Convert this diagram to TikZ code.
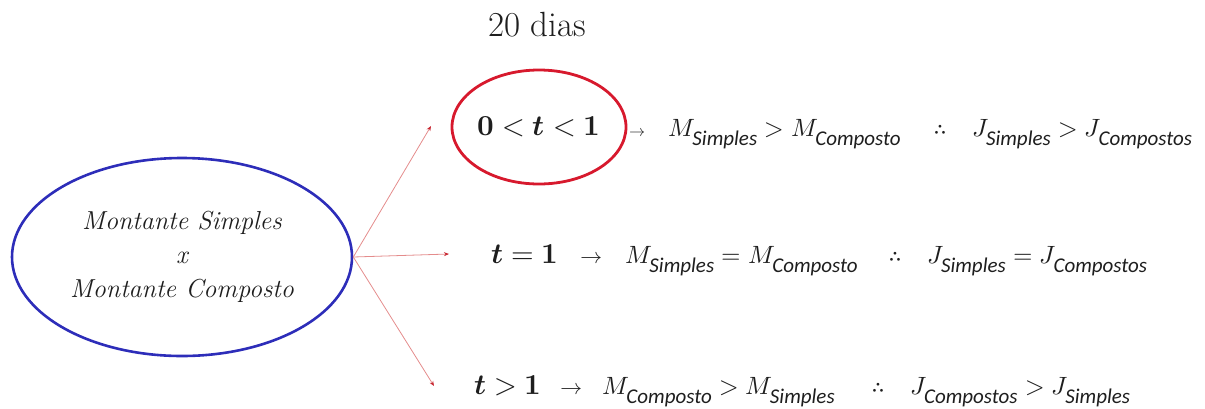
\documentclass[tikz,border=0pt]{standalone}
\usepackage{fontspec}
\usepackage{unicode-math}
\setmathfont{Latin Modern Math}
\newfontfamily\subf{Carlito}
\usetikzlibrary{shapes.geometric,arrows.meta}
\definecolor{ellblue}{RGB}{45,45,185}
\definecolor{ellred}{RGB}{215,25,45}
\definecolor{linkred}{RGB}{228,140,140}
\definecolor{tipred}{RGB}{200,40,50}
\definecolor{ink}{RGB}{30,30,30}
\newcommand{\sbx}[1]{_{\raisebox{-3pt}{\subf\itshape\fontsize{21}{24}\selectfont #1}}}
\newcommand{\thf}{\text{\fontsize{27}{30}\selectfont$\therefore$}}
\begin{document}
\begin{tikzpicture}[x=1pt,y=-1pt,
  conn/.style={draw=linkred, line width=0.8pt, -{Stealth[length=5pt,width=4pt,color=tipred]}},
  rowtxt/.style={anchor=base west, inner sep=0pt, text=ink, font=\fontsize{25}{28}\selectfont},
  condtxt/.style={anchor=base west, inner sep=0pt, text=ink, font=\fontsize{29}{32}\selectfont},
  arr/.style={anchor=base west, inner sep=0pt, text=ink, font=\fontsize{22}{26}\selectfont}]
\useasboundingbox (0,0) rectangle (1205,408);

% main ellipse
\node[ellipse, draw=ellblue, line width=2.6pt, minimum width=340pt, minimum height=198pt,
      inner sep=0pt, align=center, text=ink, font=\fontsize{26}{34}\selectfont\itshape]
      (main) at (182,257) {Montante Simples\\x\\Montante Composto};

% title
\node[inner sep=0pt, anchor=base, text=ink, font=\fontsize{35}{38}\selectfont] (days) at (537,36) {20 dias};

% highlighted condition
\node[ellipse, draw=ellred, line width=2.8pt, minimum width=174pt, minimum height=114pt,
      inner sep=0pt, text=ink, font=\fontsize{29}{32}\selectfont] (ring) at (539,127)
      {$\symbf{0}<\symbfit{t}<\symbf{1}$};

% row 1
\node[arr, font=\fontsize{16}{18}\selectfont] (a1) at (629,136) {$\rightarrow$};
\node[rowtxt] (m1) at (668,136) {$M\sbx{Simples} > M\sbx{Composto}$};
\node[rowtxt] (th1) at (933,136) {\thf};
\node[rowtxt] (j1) at (972,136) {$J\sbx{Simples} > J\sbx{Compostos}$};

% row 2
\node[condtxt] (c2) at (491,263) {$\symbfit{t}=\symbf{1}$};
\node[arr] (a2) at (580,263) {$\rightarrow$};
\node[rowtxt] (m2) at (625,263) {$M\sbx{Simples} = M\sbx{Composto}$};
\node[rowtxt] (th2) at (888,263) {\thf};
\node[rowtxt] (j2) at (927,263) {$J\sbx{Simples} = J\sbx{Compostos}$};

% row 3
\node[condtxt] (c3) at (474,394) {$\symbfit{t}>\symbf{1}$};
\node[arr] (a3) at (560,394) {$\rightarrow$};
\node[rowtxt] (m3) at (602,394) {$M\sbx{Composto} > M\sbx{Simples}$};
\node[rowtxt] (th3) at (871,394) {\thf};
\node[rowtxt] (j3) at (910,394) {$J\sbx{Compostos} > J\sbx{Simples}$};

% connectors
\coordinate (e1) at (431,126);
\coordinate (e2) at (449,254);
\coordinate (e3) at (434,386);
\draw[conn] (main.east) -- (e1);
\draw[conn] (main.east) -- (e2);
\draw[conn] (main.east) -- (e3);
\end{tikzpicture}
\end{document}
